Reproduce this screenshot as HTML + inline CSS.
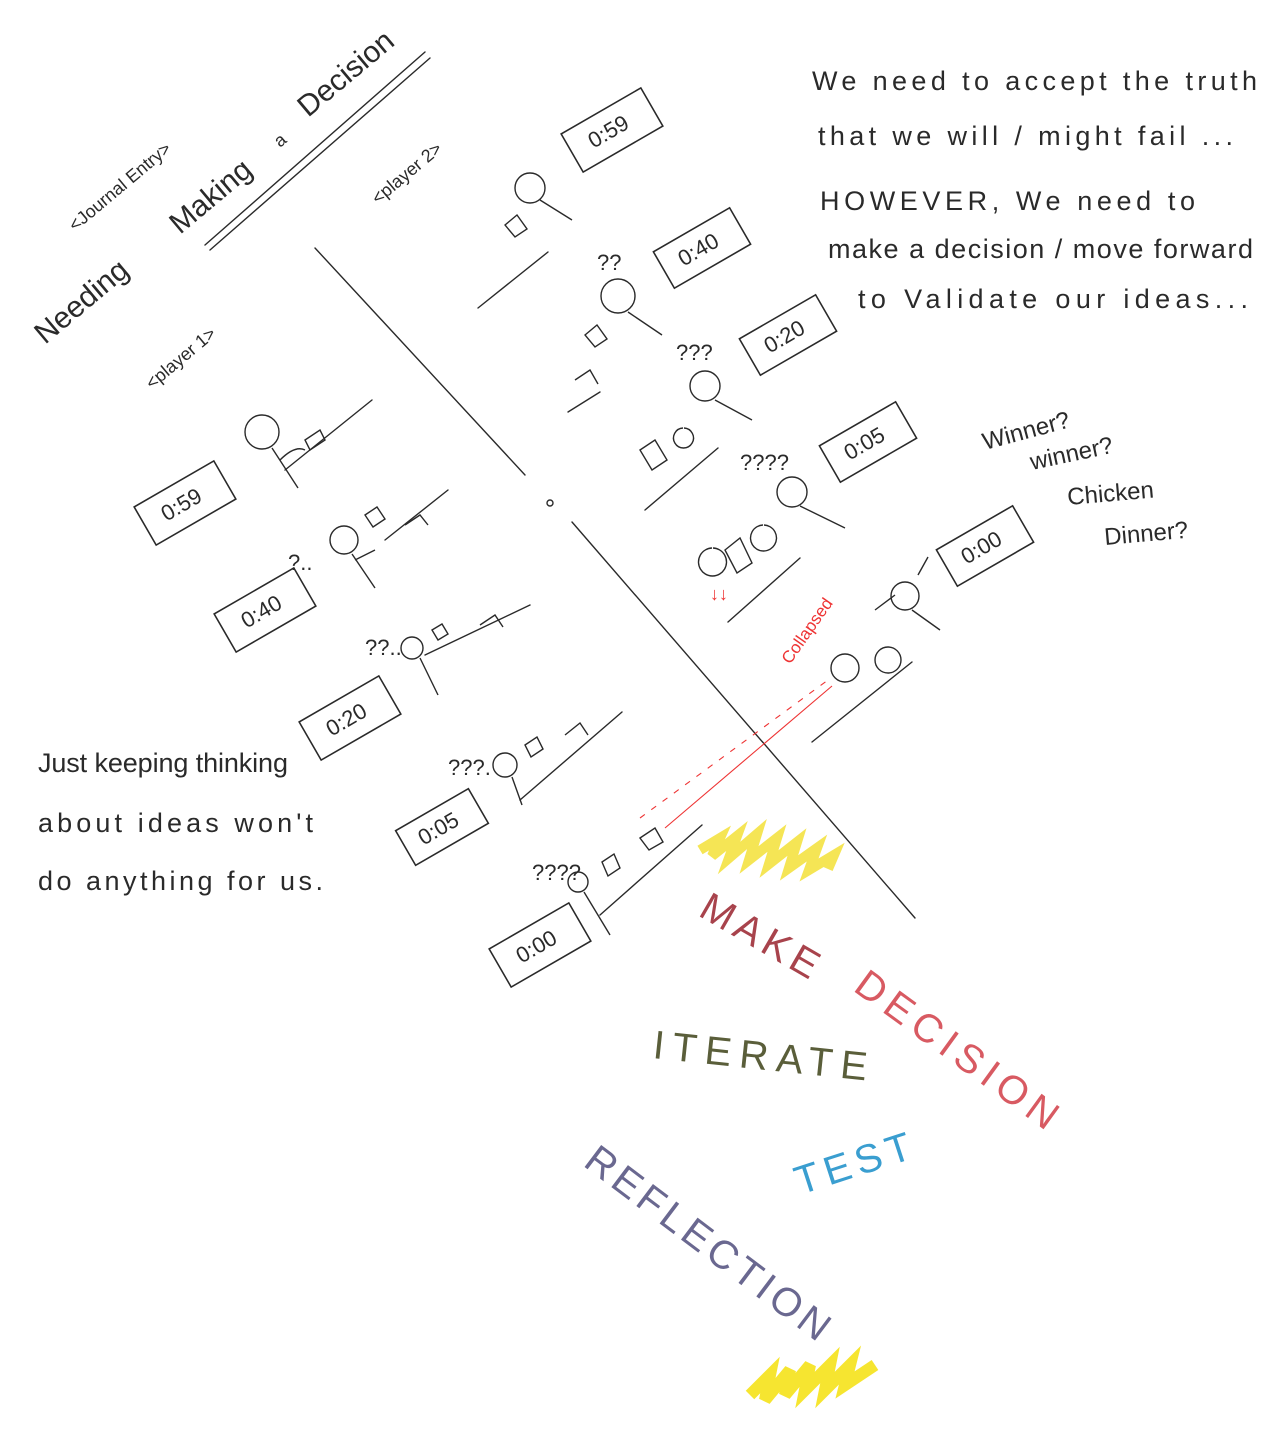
<!DOCTYPE html>
<html><head><meta charset="utf-8"><style>
html,body{margin:0;padding:0;background:#fff}
svg{display:block}
text{font-family:"Liberation Sans",sans-serif}
</style></head><body>
<svg width="1280" height="1441" viewBox="0 0 1280 1441" xmlns="http://www.w3.org/2000/svg">
<rect width="1280" height="1441" fill="#fff"/>
<g stroke="#2a2a2a" stroke-width="1.4" fill="none" stroke-linecap="round">
<line x1="315" y1="248" x2="525" y2="475"/>
<line x1="572" y1="522" x2="915" y2="918"/>
<circle cx="550" cy="503" r="3"/>
<line x1="205" y1="245" x2="425" y2="52"/>
<line x1="210" y1="250" x2="430" y2="58"/>
<line x1="285" y1="470" x2="372" y2="400"/>
<line x1="385" y1="540" x2="448" y2="490"/>
<line x1="425" y1="655" x2="530" y2="605"/>
<line x1="520" y1="800" x2="622" y2="712"/>
<line x1="600" y1="915" x2="702" y2="825"/>
<line x1="478" y1="308" x2="548" y2="252"/>
<line x1="568" y1="412" x2="600" y2="392"/>
<line x1="645" y1="510" x2="718" y2="448"/>
<line x1="728" y1="622" x2="800" y2="558"/>
<line x1="812" y1="742" x2="912" y2="662"/>
</g>
<g stroke="#e33" stroke-width="1.1" fill="none">
<line x1="665" y1="828" x2="832" y2="686"/>
<line x1="640" y1="818" x2="828" y2="680" stroke-dasharray="6 8"/>
</g>
<text transform="translate(790,665) rotate(-55)" font-size="17" style="fill:#e33">Collapsed</text>
<g stroke="#2a2a2a" stroke-width="1.6" fill="none">
<g transform="translate(185,503) rotate(-30)"><rect x="-46" y="-22" width="92" height="44"/></g>
<g transform="translate(265,610) rotate(-30)"><rect x="-46" y="-22" width="92" height="44"/></g>
<g transform="translate(350,718) rotate(-30)"><rect x="-46" y="-22" width="92" height="44"/></g>
<g transform="translate(442,827) rotate(-30)"><rect x="-42" y="-20" width="84" height="40"/></g>
<g transform="translate(540,945) rotate(-30)"><rect x="-46" y="-22" width="92" height="44"/></g>
<g transform="translate(612,130) rotate(-30)"><rect x="-46" y="-22" width="92" height="44"/></g>
<g transform="translate(702,248) rotate(-30)"><rect x="-44" y="-21" width="88" height="42"/></g>
<g transform="translate(788,335) rotate(-30)"><rect x="-44" y="-21" width="88" height="42"/></g>
<g transform="translate(868,442) rotate(-30)"><rect x="-44" y="-21" width="88" height="42"/></g>
<g transform="translate(985,546) rotate(-30)"><rect x="-44" y="-21" width="88" height="42"/></g>
</g>
<g font-size="22" text-anchor="middle" style="fill:#2a2a2a">
<text transform="translate(185,511) rotate(-30)">0:59</text>
<text transform="translate(265,618) rotate(-30)">0:40</text>
<text transform="translate(350,726) rotate(-30)">0:20</text>
<text transform="translate(442,835) rotate(-30)">0:05</text>
<text transform="translate(540,953) rotate(-30)">0:00</text>
<text transform="translate(612,138) rotate(-30)">0:59</text>
<text transform="translate(702,256) rotate(-30)">0:40</text>
<text transform="translate(788,343) rotate(-30)">0:20</text>
<text transform="translate(868,450) rotate(-30)">0:05</text>
<text transform="translate(985,554) rotate(-30)">0:00</text>
</g>
<g stroke="#2a2a2a" stroke-width="1.4" fill="none">
<circle cx="262" cy="432" r="17"/><path d="M272 448 L298 488 M280 460 Q295 445 305 450"/>
<path d="M305 440 l15 -10 l5 10 l-15 10z"/>
<circle cx="344" cy="540" r="14"/><path d="M352 554 L375 588 M355 560 l20 -10"/>
<path d="M365 515 l12 -8 l8 12 l-12 8z M405 525 l15 -10 l8 10"/>
<circle cx="412" cy="648" r="11"/><path d="M420 658 L438 695"/>
<path d="M432 630 l10 -6 l6 10 l-10 6z M480 625 l15 -10 l8 12"/>
<circle cx="505" cy="765" r="12"/><path d="M512 777 L522 805"/>
<path d="M525 745 l12 -8 l6 12 l-12 8z M565 735 l15 -12 l8 12"/>
<circle cx="578" cy="882" r="10"/><path d="M584 892 L610 935"/>
<path d="M602 862 l12 -8 l6 14 l-12 8z M640 838 l15 -10 l8 14 l-14 8z"/>
<circle cx="530" cy="188" r="15"/><path d="M540 200 L572 220 M505 225 l12 -10 l10 14 l-12 8z"/>
<circle cx="618" cy="296" r="17"/><path d="M628 312 L662 335 M585 335 l12 -10 l10 14 l-12 8z M575 380 l15 -10 l8 14"/>
<circle cx="705" cy="386" r="15"/><path d="M715 400 L752 420 M683 428 a10 10 0 1 0 1 0 M640 450 l15 -10 l12 20 l-15 10z"/>
<circle cx="792" cy="492" r="15"/><path d="M800 506 L845 528 M763 525 a13 13 0 1 0 1 0 M712 548 a14 14 0 1 0 1 0 M725 550 l15 -12 l12 25 l-15 10z"/>
<circle cx="905" cy="596" r="14"/><path d="M912 610 L940 630 M875 610 l20 -15 M918 575 l10 -18"/>
<circle cx="845" cy="668" r="14"/><circle cx="888" cy="660" r="13"/>
</g>
<g font-size="22" style="fill:#2a2a2a">
<text x="288" y="570">?..</text>
<text x="365" y="655">??..</text>
<text x="448" y="775">???.</text>
<text x="532" y="880">????</text>
<text x="597" y="270">??</text>
<text x="676" y="360">???</text>
<text x="740" y="470">????</text>
</g>
<text x="710" y="600" font-size="18" style="fill:#e33">↓↓</text>
<g font-size="30" style="fill:#2a2a2a">
<text transform="translate(45,345) rotate(-40)">Needing</text>
<text transform="translate(180,235) rotate(-40)">Making</text>
<text transform="translate(280,148) rotate(-40)" font-size="18">a</text>
<text transform="translate(308,118) rotate(-40)">Decision</text>
</g>
<g font-size="18" style="fill:#2a2a2a">
<text transform="translate(75,232) rotate(-40)">&lt;Journal Entry&gt;</text>
<text transform="translate(152,390) rotate(-40)">&lt;player 1&gt;</text>
<text transform="translate(378,205) rotate(-40)">&lt;player 2&gt;</text>
</g>
<g font-size="27" style="fill:#2a2a2a">
<text x="812" y="90" textLength="445">We  need  to  accept  the  truth</text>
<text x="818" y="145" textLength="415">that  we  will / might  fail ...</text>
<text x="820" y="210" textLength="375">HOWEVER, We need to</text>
<text x="828" y="258" textLength="425">make  a  decision / move  forward</text>
<text x="858" y="308" textLength="390">to  Validate  our  ideas...</text>
</g>
<g font-size="24" style="fill:#2a2a2a">
<text transform="translate(985,450) rotate(-15)">Winner?</text>
<text transform="translate(1032,470) rotate(-12)">winner?</text>
<text transform="translate(1068,505) rotate(-5)">Chicken</text>
<text transform="translate(1105,545) rotate(-5)">Dinner?</text>
</g>
<g font-size="27" style="fill:#2a2a2a">
<text x="38" y="772" textLength="250">Just  keeping  thinking</text>
<text x="38" y="832" textLength="275">about   ideas   won't</text>
<text x="38" y="890" textLength="285">do  anything  for  us.</text>
</g>
<path d="M700 850 l20 -12 l-8 18 l25 -20 l-8 22 l28 -24 l-8 26 l28 -22 l-8 26 l28 -22 l-8 26 l28 -20 l-8 22 l25 -15 l-6 14" stroke="#f2df2a" stroke-width="10" fill="none" opacity="0.8"/>
<path d="M750 1395 l20 -20 l-5 25 l25 -30 l-5 25 l25 -30 l-5 25 l25 -25 l-5 25 l25 -25 l-5 20 l30 -20" stroke="#f5e21a" stroke-width="12" fill="none" opacity="0.9"/>
<g font-size="40">
<text transform="translate(697,915) rotate(30)" style="fill:#a8434c" textLength="130">MAKE</text>
<text transform="translate(852,990) rotate(36)" style="fill:#d85a62" textLength="240">DECISION</text>
<text transform="translate(652,1058) rotate(6)" style="fill:#5a5e3a" textLength="215">ITERATE</text>
<text transform="translate(800,1195) rotate(-18)" style="fill:#3a9ed0" textLength="120">TEST</text>
<text transform="translate(582,1165) rotate(37)" style="fill:#6a6890" textLength="295">REFLECTION</text>
</g>
</svg>
</body></html>
